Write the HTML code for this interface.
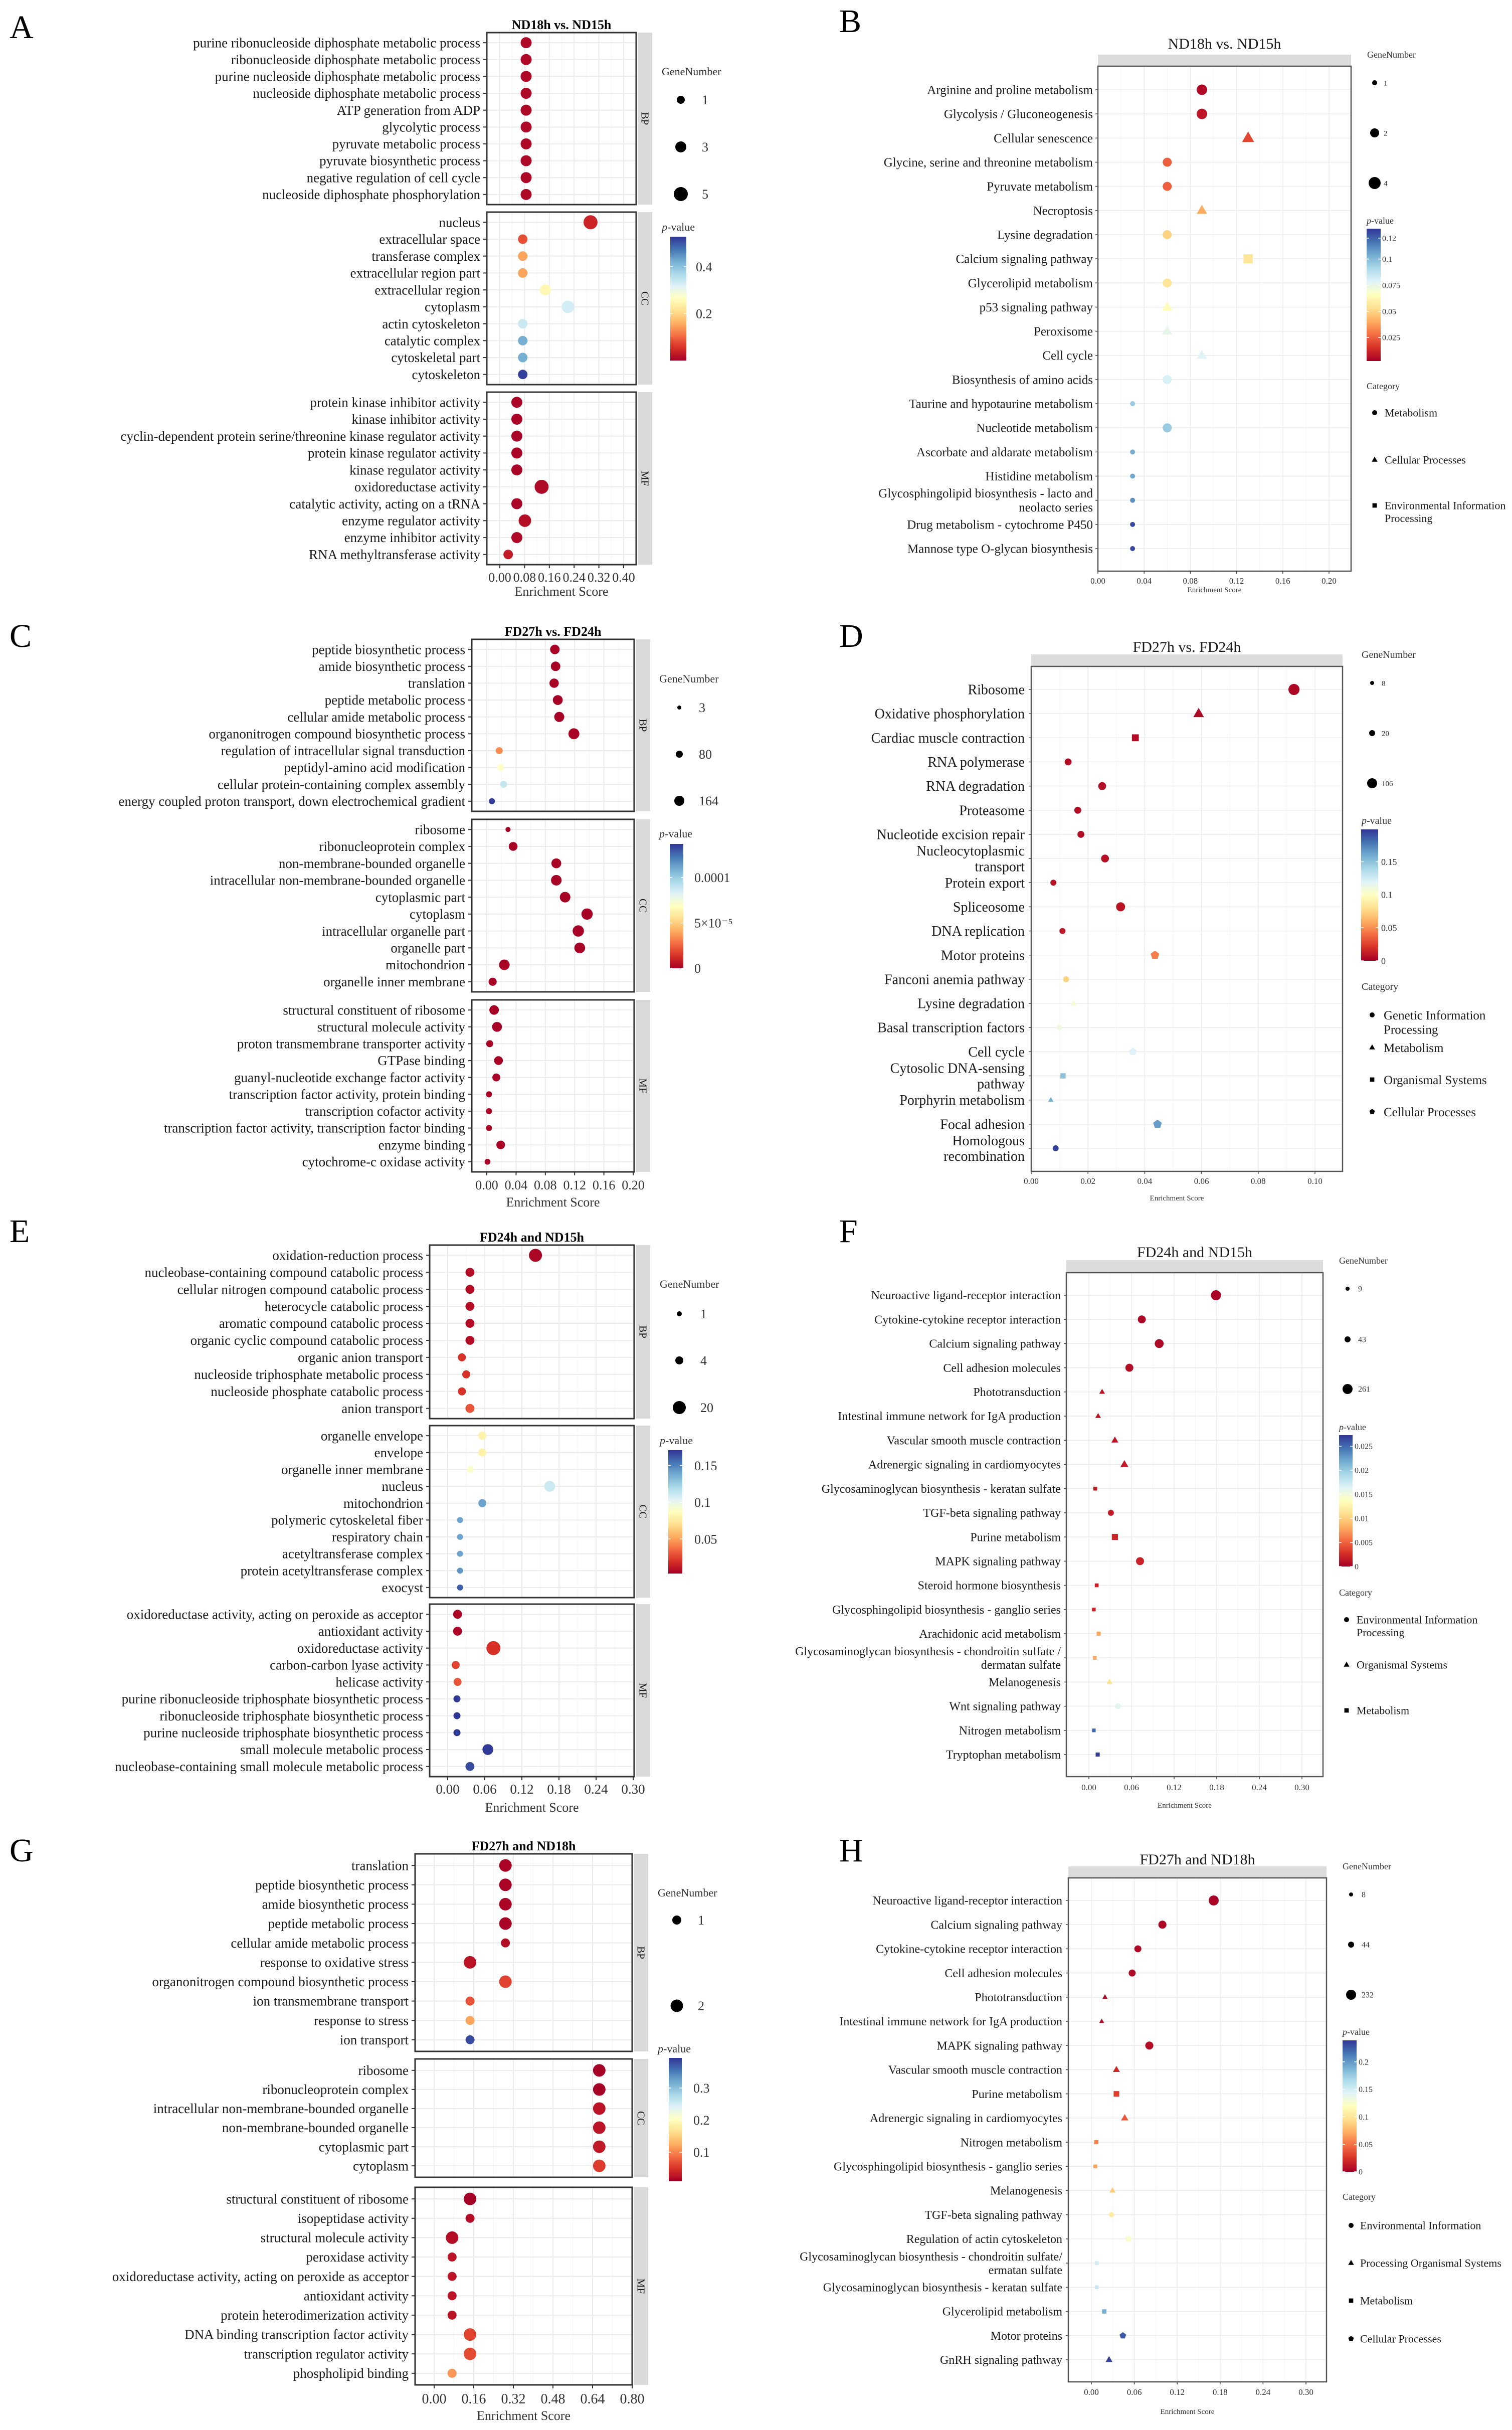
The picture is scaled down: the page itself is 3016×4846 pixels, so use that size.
<!DOCTYPE html>
<html><head><meta charset="utf-8"><title>GO and KEGG enrichment bubble charts</title>
<style>
html,body{margin:0;padding:0;background:#fff;}
svg{display:block;font-family:"Liberation Serif","DejaVu Serif",serif;}
</style></head>
<body>
<svg id="fig" xmlns="http://www.w3.org/2000/svg" width="3016" height="4846" viewBox="0 0 3016 4846">
<rect x="0" y="0" width="3016" height="4846" fill="#ffffff"/>
<defs id="defs"></defs>
</svg>
<script>
// ===================== DATA =====================
// Panel A (GO, ND18h vs. ND15h)
const A_BP_terms=["purine ribonucleoside diphosphate metabolic process","ribonucleoside diphosphate metabolic process","purine nucleoside diphosphate metabolic process","nucleoside diphosphate metabolic process","ATP generation from ADP","glycolytic process","pyruvate metabolic process","pyruvate biosynthetic process","negative regulation of cell cycle","nucleoside diphosphate phosphorylation"];
const A_BP_score=[0.085,0.085,0.085,0.085,0.085,0.085,0.085,0.085,0.085,0.085];
const A_BP_p=[0.01,0.01,0.01,0.01,0.01,0.01,0.01,0.01,0.01,0.01];
const A_BP_genes=[3,3,3,3,3,3,3,3,3,3];
const A_CC_terms=["nucleus","extracellular space","transferase complex","extracellular region part","extracellular region","cytoplasm","actin cytoskeleton","catalytic complex","cytoskeletal part","cytoskeleton"];
const A_CC_score=[0.293,0.074,0.074,0.074,0.147,0.22,0.074,0.074,0.074,0.074];
const A_CC_p=[0.04,0.08,0.15,0.15,0.25,0.33,0.34,0.42,0.42,0.52];
const A_CC_genes=[5,2,2,2,3,4,2,2,2,2];
const A_MF_terms=["protein kinase inhibitor activity","kinase inhibitor activity","cyclin-dependent protein serine/threonine kinase regulator activity","protein kinase regulator activity","kinase regulator activity","oxidoreductase activity","catalytic activity, acting on a tRNA","enzyme regulator activity","enzyme inhibitor activity","RNA methyltransferase activity"];
const A_MF_score=[0.055,0.055,0.055,0.055,0.055,0.135,0.055,0.081,0.055,0.027];
const A_MF_p=[0.005,0.005,0.005,0.005,0.005,0.01,0.005,0.015,0.01,0.03];
const A_MF_genes=[3,3,3,3,3,5,3,4,3,2];
const A_ticks=[0,0.08,0.16,0.24,0.32,0.40];
const A_tickLabels=["0.00","0.08","0.16","0.24","0.32","0.40"];

// Panel C (GO, FD27h vs. FD24h)
const C_BP_terms=["peptide biosynthetic process","amide biosynthetic process","translation","peptide metabolic process","cellular amide metabolic process","organonitrogen compound biosynthetic process","regulation of intracellular signal transduction","peptidyl-amino acid modification","cellular protein-containing complex assembly","energy coupled proton transport, down electrochemical gradient"];
const C_BP_score=[0.093,0.094,0.092,0.097,0.099,0.119,0.017,0.019,0.023,0.007];
const C_BP_p=[0.0000005,0.0000005,0.0000005,0.0000005,0.0000005,0.000001,0.000034,0.00007,0.00009,0.000135];
const C_BP_genes=[150,150,145,160,165,190,80,75,75,55];
const C_CC_terms=["ribosome","ribonucleoprotein complex","non-membrane-bounded organelle","intracellular non-membrane-bounded organelle","cytoplasmic part","cytoplasm","intracellular organelle part","organelle part","mitochondrion","organelle inner membrane"];
const C_CC_score=[0.029,0.036,0.095,0.095,0.107,0.137,0.125,0.127,0.024,0.008];
const C_CC_p=[0.0000005,0.0000005,0.0000005,0.0000005,0.0000005,0.0000005,0.0000005,0.0000005,0.000001,0.000001];
const C_CC_genes=[30,130,160,180,180,200,200,185,180,110];
const C_MF_terms=["structural constituent of ribosome","structural molecule activity","proton transmembrane transporter activity","GTPase binding","guanyl-nucleotide exchange factor activity","transcription factor activity, protein binding","transcription cofactor activity","transcription factor activity, transcription factor binding","enzyme binding","cytochrome-c oxidase activity"];
const C_MF_score=[0.010,0.014,0.004,0.016,0.013,0.003,0.003,0.003,0.019,0.001];
const C_MF_p=[0.0000005,0.0000005,0.000001,0.000001,0.000001,0.000001,0.000001,0.000001,0.000001,0.000001];
const C_MF_genes=[150,160,80,130,105,55,55,55,125,50];
const C_ticks=[0,0.04,0.08,0.12,0.16,0.20];
const C_tickLabels=["0.00","0.04","0.08","0.12","0.16","0.20"];

// Panel E (GO, FD24h and ND15h)
const E_BP_terms=["oxidation-reduction process","nucleobase-containing compound catabolic process","cellular nitrogen compound catabolic process","heterocycle catabolic process","aromatic compound catabolic process","organic cyclic compound catabolic process","organic anion transport","nucleoside triphosphate metabolic process","nucleoside phosphate catabolic process","anion transport"];
const E_BP_score=[0.142,0.036,0.036,0.036,0.036,0.036,0.023,0.030,0.023,0.036];
const E_BP_p=[0.005,0.008,0.008,0.008,0.008,0.008,0.02,0.02,0.02,0.03];
const E_BP_genes=[20,7,7,7,7,7,4,4,4,7];
const E_CC_terms=["organelle envelope","envelope","organelle inner membrane","nucleus","mitochondrion","polymeric cytoskeletal fiber","respiratory chain","acetyltransferase complex","protein acetyltransferase complex","exocyst"];
const E_CC_score=[0.056,0.056,0.037,0.165,0.056,0.02,0.02,0.02,0.02,0.02];
const E_CC_p=[0.08,0.08,0.09,0.11,0.14,0.14,0.14,0.14,0.145,0.16];
const E_CC_genes=[4,4,3,13,4,2,2,2,2,2];
const E_MF_terms=["oxidoreductase activity, acting on peroxide as acceptor","antioxidant activity","oxidoreductase activity","carbon-carbon lyase activity","helicase activity","purine ribonucleoside triphosphate biosynthetic process","ribonucleoside triphosphate biosynthetic process","purine nucleoside triphosphate biosynthetic process","small molecule metabolic process","nucleobase-containing small molecule metabolic process"];
const E_MF_score=[0.016,0.016,0.074,0.013,0.016,0.015,0.015,0.015,0.065,0.036];
const E_MF_p=[0.005,0.005,0.02,0.025,0.03,0.17,0.17,0.17,0.17,0.165];
const E_MF_genes=[7,7,23,4,4,3,3,3,13,7];
const E_ticks=[0,0.06,0.12,0.18,0.24,0.30];
const E_tickLabels=["0.00","0.06","0.12","0.18","0.24","0.30"];

// Panel G (GO, FD27h and ND18h)
const G_BP_terms=["translation","peptide biosynthetic process","amide biosynthetic process","peptide metabolic process","cellular amide metabolic process","response to oxidative stress","organonitrogen compound biosynthetic process","ion transmembrane transport","response to stress","ion transport"];
const G_BP_score=[0.288,0.288,0.288,0.288,0.288,0.145,0.288,0.145,0.145,0.145];
const G_BP_p=[0.012,0.012,0.012,0.012,0.02,0.025,0.06,0.07,0.12,0.38];
const G_BP_genes=[2,2,2,2,1,2,2,1,1,1];
const G_CC_terms=["ribosome","ribonucleoprotein complex","intracellular non-membrane-bounded organelle","non-membrane-bounded organelle","cytoplasmic part","cytoplasm"];
const G_CC_score=[0.667,0.667,0.667,0.667,0.667,0.667];
const G_CC_p=[0.01,0.01,0.025,0.025,0.03,0.055];
const G_CC_genes=[2,2,2,2,2,2];
const G_MF_terms=["structural constituent of ribosome","isopeptidase activity","structural molecule activity","peroxidase activity","oxidoreductase activity, acting on peroxide as acceptor","antioxidant activity","protein heterodimerization activity","DNA binding transcription factor activity","transcription regulator activity","phospholipid binding"];
const G_MF_score=[0.145,0.145,0.0725,0.0725,0.0725,0.0725,0.0725,0.145,0.145,0.0725];
const G_MF_p=[0.01,0.02,0.02,0.025,0.025,0.025,0.025,0.06,0.065,0.11];
const G_MF_genes=[2,1,2,1,1,1,1,2,2,1];
const G_ticks=[0,0.16,0.32,0.48,0.64,0.80];
const G_tickLabels=["0.00","0.16","0.32","0.48","0.64","0.80"];

// Panel B (KEGG, ND18h vs. ND15h)
const B_terms=["Arginine and proline metabolism","Glycolysis / Gluconeogenesis","Cellular senescence","Glycine, serine and threonine metabolism","Pyruvate metabolism","Necroptosis","Lysine degradation","Calcium signaling pathway","Glycerolipid metabolism","p53 signaling pathway","Peroxisome","Cell cycle","Biosynthesis of amino acids","Taurine and hypotaurine metabolism","Nucleotide metabolism","Ascorbate and aldarate metabolism","Histidine metabolism","Glycosphingolipid biosynthesis - lacto and\nneolacto series","Drug metabolism - cytochrome P450","Mannose type O-glycan biosynthesis"];
const B_score=[0.09,0.09,0.13,0.06,0.06,0.09,0.06,0.13,0.06,0.06,0.06,0.09,0.06,0.03,0.06,0.03,0.03,0.03,0.03,0.03];
const B_p=[0.005,0.008,0.02,0.025,0.025,0.04,0.05,0.055,0.055,0.065,0.075,0.078,0.08,0.095,0.095,0.103,0.105,0.11,0.125,0.125];
const B_genes=[3,3,3,2,2,2,2,3,2,2,2,2,2,1,2,1,1,1,1,1];
const B_shape=['c','c','t','c','c','t','c','s','c','t','t','t','c','c','c','c','c','c','c','c'];
const B_ticks=[0,0.04,0.08,0.12,0.16,0.20];
const B_tickLabels=["0.00","0.04","0.08","0.12","0.16","0.20"];

// Panel D (KEGG, FD27h vs. FD24h)
const D_terms=["Ribosome","Oxidative phosphorylation","Cardiac muscle contraction","RNA polymerase","RNA degradation","Proteasome","Nucleotide excision repair","Nucleocytoplasmic\ntransport","Protein export","Spliceosome","DNA replication","Motor proteins","Fanconi anemia pathway","Lysine degradation","Basal transcription factors","Cell cycle","Cytosolic DNA-sensing\npathway","Porphyrin metabolism","Focal adhesion","Homologous\nrecombination"];
const D_score=[0.0926,0.059,0.0367,0.013,0.025,0.0164,0.0175,0.026,0.0078,0.0315,0.011,0.0436,0.0123,0.0149,0.0099,0.0358,0.0112,0.0069,0.0445,0.0086];
const D_p=[0.003,0.004,0.005,0.005,0.006,0.006,0.006,0.007,0.008,0.008,0.01,0.045,0.075,0.105,0.11,0.12,0.15,0.16,0.165,0.195];
const D_genes=[130,90,60,40,60,40,40,60,20,85,20,60,20,15,15,40,20,12,60,20];
const D_shape=['c','t','s','c','c','c','c','c','c','c','c','p','c','t','c','p','s','t','p','c'];
const D_ticks=[0,0.02,0.04,0.06,0.08,0.10];
const D_tickLabels=["0.00","0.02","0.04","0.06","0.08","0.10"];

// Panel F (KEGG, FD24h and ND15h)
const F_terms=["Neuroactive ligand-receptor interaction","Cytokine-cytokine receptor interaction","Calcium signaling pathway","Cell adhesion molecules","Phototransduction","Intestinal immune network for IgA production","Vascular smooth muscle contraction","Adrenergic signaling in cardiomyocytes","Glycosaminoglycan biosynthesis - keratan sulfate","TGF-beta signaling pathway","Purine metabolism","MAPK signaling pathway","Steroid hormone biosynthesis","Glycosphingolipid biosynthesis - ganglio series","Arachidonic acid metabolism","Glycosaminoglycan biosynthesis - chondroitin sulfate /\ndermatan sulfate","Melanogenesis","Wnt signaling pathway","Nitrogen metabolism","Tryptophan metabolism"];
const F_score=[0.179,0.0745,0.099,0.057,0.0186,0.013,0.0366,0.05,0.009,0.031,0.0366,0.072,0.011,0.007,0.0138,0.0083,0.029,0.041,0.007,0.0124];
const F_p=[0.0003,0.0005,0.0005,0.0008,0.001,0.001,0.0012,0.0015,0.0015,0.0015,0.002,0.002,0.002,0.002,0.008,0.008,0.011,0.016,0.025,0.027];
const F_genes=[261,150,200,150,25,25,43,95,15,43,95,150,15,12,20,15,30,43,12,20];
const F_shape=['c','c','c','c','t','t','t','t','s','c','s','c','s','s','s','s','t','c','s','s'];
const F_ticks=[0,0.06,0.12,0.18,0.24,0.30];
const F_tickLabels=["0.00","0.06","0.12","0.18","0.24","0.30"];

// Panel H (KEGG, FD27h and ND18h)
const H_terms=["Neuroactive ligand-receptor interaction","Calcium signaling pathway","Cytokine-cytokine receptor interaction","Cell adhesion molecules","Phototransduction","Intestinal immune network for IgA production","MAPK signaling pathway","Vascular smooth muscle contraction","Purine metabolism","Adrenergic signaling in cardiomyocytes","Nitrogen metabolism","Glycosphingolipid biosynthesis - ganglio series","Melanogenesis","TGF-beta signaling pathway","Regulation of actin cytoskeleton","Glycosaminoglycan biosynthesis - chondroitin sulfate/\nermatan sulfate","Glycosaminoglycan biosynthesis - keratan sulfate","Glycerolipid metabolism","Motor proteins","GnRH signaling pathway"];
const H_score=[0.171,0.0993,0.065,0.057,0.019,0.0144,0.081,0.035,0.035,0.0466,0.0068,0.0055,0.0295,0.028,0.052,0.0075,0.0075,0.018,0.044,0.0247];
const H_p=[0.002,0.003,0.004,0.005,0.005,0.006,0.007,0.02,0.03,0.04,0.055,0.07,0.085,0.105,0.125,0.15,0.155,0.19,0.225,0.235];
const H_genes=[232,140,90,90,20,15,140,44,60,60,20,15,30,30,44,15,12,25,44,44];
const H_shape=['c','c','c','c','t','t','c','t','s','t','s','s','t','c','p','s','s','s','p','t'];
const H_ticks=[0,0.06,0.12,0.18,0.24,0.30];
const H_tickLabels=["0.00","0.06","0.12","0.18","0.24","0.30"];

// legend values
const A_geneLegend=[1,3,5]; const C_geneLegend=[3,80,164]; const E_geneLegend=[1,4,20]; const G_geneLegend=[1,2];
const B_geneLegend=[1,2,4]; const D_geneLegend=[8,20,106]; const F_geneLegend=[9,43,261]; const H_geneLegend=[8,44,232];
const A_pTicks=[0.2,0.4]; const A_pLabels=["0.2","0.4"];
const C_pTicks=[0,0.00005,0.0001]; const C_pLabels=["0","5×10⁻⁵","0.0001"];
const E_pTicks=[0.05,0.1,0.15]; const E_pLabels=["0.05","0.1","0.15"];
const G_pTicks=[0.1,0.2,0.3]; const G_pLabels=["0.1","0.2","0.3"];
const B_pTicks=[0.025,0.05,0.075,0.1,0.12]; const B_pLabels=["0.025","0.05","0.075","0.1","0.12"];
const D_pTicks=[0,0.05,0.1,0.15]; const D_pLabels=["0","0.05","0.1","0.15"];
const F_pTicks=[0,0.005,0.01,0.015,0.02,0.025]; const F_pLabels=["0","0.005","0.01","0.015","0.02","0.025"];
const H_pTicks=[0,0.05,0.1,0.15,0.2]; const H_pLabels=["0","0.05","0.1","0.15","0.2"];

// ===================== HELPERS =====================
const NS='http://www.w3.org/2000/svg';
const svg=document.getElementById('fig');
const defs=document.getElementById('defs');
function mk(tag,attrs,parent){const e=document.createElementNS(NS,tag);for(const k in attrs)e.setAttribute(k,attrs[k]);(parent||svg).appendChild(e);return e;}
function txt(s,attrs,parent){const e=mk('text',attrs,parent);e.textContent=s;return e;}
const STOPS=['#A50026','#D73027','#F46D43','#FDAE61','#FEE090','#FFFFBF','#E0F3F8','#ABD9E9','#74ADD1','#4575B4','#313695'];
function hx(h){return [parseInt(h.substr(1,2),16),parseInt(h.substr(3,2),16),parseInt(h.substr(5,2),16)];}
function colT(t){t=Math.max(0,Math.min(1,t));const f=t*(STOPS.length-1);const i=Math.min(Math.floor(f),STOPS.length-2);const u=f-i;const a=hx(STOPS[i]),b=hx(STOPS[i+1]);return 'rgb('+a.map((v,k)=>Math.round(v+(b[k]-v)*u)).join(',')+')';}
function sizeR(g,vals,radii){
  if(vals.length===1)return radii[0];
  let i=0; while(i<vals.length-2 && g>vals[i+1]) i++;
  const t=(g-vals[i])/(vals[i+1]-vals[i]); return Math.max(3,radii[i]+t*(radii[i+1]-radii[i]));
}
function marker(shape,cx,cy,r,fill,parent){
  let e;
  if(shape==='t'){e=mk('polygon',{points:[cx,cy-r*1.25,cx-r*1.15,cy+r*0.75,cx+r*1.15,cy+r*0.75].join(' '),fill:fill},parent);}
  else if(shape==='s'){const s=r*1.75;e=mk('rect',{x:cx-s/2,y:cy-s/2,width:s,height:s,fill:fill},parent);}
  else if(shape==='p'){const pts=[];for(let k=0;k<5;k++){const a=-Math.PI/2+k*2*Math.PI/5;pts.push(cx+r*1.15*Math.cos(a),cy+r*1.15*Math.sin(a));}e=mk('polygon',{points:pts.join(' '),fill:fill},parent);}
  else {e=mk('circle',{cx:cx,cy:cy,r:r,fill:fill},parent);}
  return e;
}
function gradient(id){
  const g=mk('linearGradient',{id:id,x1:0,y1:1,x2:0,y2:0},defs);
  STOPS.forEach((c,i)=>{mk('stop',{offset:(i/(STOPS.length-1)*100)+'%','stop-color':c},g);});
}
function multiText(s,x,y,fs,parent,lh){
  const lines=s.split('\n');
  const t=mk('text',{x:x,y:y,'font-size':fs,'text-anchor':'end',fill:'#1a1a1a'},parent);
  lines.forEach((ln,j)=>{const ts=mk('tspan',{x:x,y:y+(j-(lines.length-1)/2)*lh+fs*0.34},t);ts.textContent=ln;});
  return t;
}

function drawGeneLegend(g,cfg,vals){
  const grp=mk('g',{},svg);
  
  
  const t=txt('GeneNumber',{x:g.tx,y:g.ty,'font-size':g.tfs,fill:'#333'},grp);
  
  
  vals.forEach((v,i)=>{
    const m=mk('circle',{cx:g.dx,cy:g.ys[i],r:sizeR(v,vals,g.radii),fill:'#000'},grp);
    
    
    const l=txt(String(v),{x:g.lx,y:g.ys[i]+g.lfs*0.35,'font-size':g.lfs,fill:'#333'},grp);
    
    
  });
}
function drawPLegend(pv,cfg,ticks,labels){
  const grp=mk('g',{},svg);
  
  
  const t=mk('text',{x:pv.tx,y:pv.ty,'font-size':pv.tfs,fill:'#333'},grp);
  const ti=mk('tspan',{'font-style':'italic'},t); ti.textContent='p';
  const tr=mk('tspan',{},t); tr.textContent='-value';
  
  
  const gid='grad-'+cfg.id; gradient(gid);
  const bar=mk('rect',{x:pv.bx,y:pv.bt,width:pv.bw,height:pv.bb-pv.bt,fill:'url(#'+gid+')'},grp);
  
  
  const py=v=>pv.bb-(v-pv.pmin)/(pv.pmax-pv.pmin)*(pv.bb-pv.bt);
  ticks.forEach((v,i)=>{
    const y=py(v);
    mk('line',{x1:pv.bx,x2:pv.bx+5,y1:y,y2:y,stroke:'#fff','stroke-width':1.5},grp);
    mk('line',{x1:pv.bx+pv.bw-5,x2:pv.bx+pv.bw,y1:y,y2:y,stroke:'#fff','stroke-width':1.5},grp);
    const l=txt(labels[i],{x:pv.lx,y:y+pv.lfs*0.35,'font-size':pv.lfs,fill:'#333'},grp);
    
    
  });
}
function drawCategoryLegend(c,cfg){
  const grp=mk('g',{},svg);
  
  
  const t=txt('Category',{x:c.tx,y:c.ty,'font-size':c.tfs,fill:'#333'},grp);
  
  
  c.items.forEach(it=>{
    const m=marker(it.shape,c.mx,it.y,5,'#000',grp);
    
    
    it.lines.forEach((ln,j)=>{
      const l=txt(ln,{x:c.lx,y:it.y+c.lfs*0.35+j*c.lfs*1.15,'font-size':c.lfs,fill:'#1a1a1a'},grp);
      
      
    });
  });
}
function panelLetter(ch,x,y){
  const e=txt(ch,{x:x,y:y,'font-size':66,fill:'#000'});
  
  
}

// -------- GO facet panel --------
function drawGO(cfg){
  const xs=v=>cfg.x0px+(v-cfg.v0)/(cfg.v1-cfg.v0)*(cfg.x1px-cfg.x0px);
  panelLetter(cfg.letter,cfg.lx,cfg.ly);
  const tt=txt(cfg.title,{x:(cfg.L+cfg.R)/2,y:cfg.ty,'font-size':26,'font-weight':'bold','text-anchor':'middle',fill:'#000'});
  
  
  const stepTick=cfg.ticks[1]-cfg.ticks[0];
  cfg.facets.forEach((f,fi)=>{
    const grp=mk('g',{},svg);
    
    
    const n=f.terms.length, unit=(f.bottom-f.top)/(n-1+1.2);
    const ry=i=>f.top+(0.6+i)*unit;
    mk('rect',{x:cfg.L,y:f.top,width:cfg.R-cfg.L,height:f.bottom-f.top,fill:'#fff'},grp);
    cfg.ticks.forEach((v,i)=>{
      const x=xs(v);
      mk('line',{x1:x,x2:x,y1:f.top,y2:f.bottom,stroke:'#ebebeb','stroke-width':2},grp);
      const xm=xs(v+stepTick/2); if(xm<cfg.R) mk('line',{x1:xm,x2:xm,y1:f.top,y2:f.bottom,stroke:'#f4f4f4','stroke-width':1},grp);
      if(i===0){const xm0=xs(v-stepTick/2); if(xm0>cfg.L) mk('line',{x1:xm0,x2:xm0,y1:f.top,y2:f.bottom,stroke:'#f4f4f4','stroke-width':1},grp);}
    });
    for(let i=0;i<n;i++){
      const y=ry(i);
      mk('line',{x1:cfg.L,x2:cfg.R,y1:y,y2:y,stroke:'#ebebeb','stroke-width':2},grp);
      mk('line',{x1:cfg.L-7,x2:cfg.L,y1:y,y2:y,stroke:'#333','stroke-width':2},grp);
      const l=multiText(f.terms[i],cfg.L-13,y,cfg.fs,grp,cfg.fs*1.1);
      
      
    }
    for(let i=0;i<n;i++){
      const c=colT((f.p[i]-cfg.pv.pmin)/(cfg.pv.pmax-cfg.pv.pmin));
      const m=marker('c',xs(f.score[i]),ry(i),sizeR(f.genes[i],cfg.geneVals,cfg.gene.radii),c,grp);
      
      
    }
    mk('rect',{x:cfg.L,y:f.top,width:cfg.R-cfg.L,height:f.bottom-f.top,fill:'none',stroke:'#333','stroke-width':3},grp);
    const st=mk('rect',{x:cfg.R+3,y:f.top,width:29,height:f.bottom-f.top,fill:'#d9d9d9'},grp);
    
    
    const cx=cfg.R+17.5, cy=(f.top+f.bottom)/2;
    const sl=txt(f.name,{x:cx,y:cy+7,'font-size':21,'text-anchor':'middle',fill:'#1a1a1a',transform:'rotate(90 '+cx+' '+cy+')'},grp);
    
    
  });
  const last=cfg.facets[cfg.facets.length-1];
  const ax=mk('g',{},svg);
  
  
  cfg.ticks.forEach((v,i)=>{
    const x=xs(v);
    mk('line',{x1:x,x2:x,y1:last.bottom,y2:last.bottom+7,stroke:'#333','stroke-width':2},ax);
    const l=txt(cfg.tickLabels[i],{x:x,y:cfg.tickY,'font-size':cfg.tfs,'text-anchor':'middle',fill:'#333'},ax);
    
    
  });
  const at=txt('Enrichment Score',{x:(cfg.L+cfg.R)/2,y:cfg.esY,'font-size':26,'text-anchor':'middle',fill:'#333'},ax);
  
  
  drawGeneLegend(cfg.gene,cfg,cfg.geneVals);
  drawPLegend(cfg.pv,cfg,cfg.pTicks,cfg.pLabels);
}

// -------- KEGG panel --------
function drawKEGG(cfg){
  const xs=v=>cfg.x0px+(v-cfg.v0)/(cfg.v1-cfg.v0)*(cfg.x1px-cfg.x0px);
  const n=cfg.terms.length;
  const ry=i=>cfg.firstY+i*(cfg.lastY-cfg.firstY)/(n-1);
  panelLetter(cfg.letter,cfg.lx,cfg.ly);
  const tt=txt(cfg.title,{x:(cfg.L+cfg.R)/2,y:cfg.ty,'font-size':30,'text-anchor':'middle',fill:'#1a1a1a'});
  
  
  const grp=mk('g',{},svg);
  
  
  const st=mk('rect',{x:cfg.L,y:cfg.stripTop,width:cfg.R-cfg.L,height:cfg.top-cfg.stripTop,fill:'#dcdcdc'},grp);
  
  
  mk('rect',{x:cfg.L,y:cfg.top,width:cfg.R-cfg.L,height:cfg.bottom-cfg.top,fill:'#fff'},grp);
  const step=cfg.ticks[1]-cfg.ticks[0];
  cfg.ticks.forEach((v,i)=>{
    const x=xs(v);
    mk('line',{x1:x,x2:x,y1:cfg.top,y2:cfg.bottom,stroke:'#ebebeb','stroke-width':1.5},grp);
    const xm=xs(v+step/2); if(xm<cfg.R) mk('line',{x1:xm,x2:xm,y1:cfg.top,y2:cfg.bottom,stroke:'#f5f5f5','stroke-width':1},grp);
  });
  for(let i=0;i<n;i++){
    const y=ry(i);
    mk('line',{x1:cfg.L,x2:cfg.R,y1:y,y2:y,stroke:'#ebebeb','stroke-width':1.5},grp);
    mk('line',{x1:cfg.L-5,x2:cfg.L,y1:y,y2:y,stroke:'#444','stroke-width':1.5},grp);
    const l=multiText(cfg.terms[i],cfg.labelX,y,cfg.fs,grp,cfg.fs*1.12);
    
    
  }
  for(let i=0;i<n;i++){
    const c=colT((cfg.p[i]-cfg.pv.pmin)/(cfg.pv.pmax-cfg.pv.pmin));
    const m=marker(cfg.shape[i],xs(cfg.score[i]),ry(i),sizeR(cfg.genes[i],cfg.geneVals,cfg.gene.radii),c,grp);
    
    
  }
  mk('rect',{x:cfg.L,y:cfg.top,width:cfg.R-cfg.L,height:cfg.bottom-cfg.top,fill:'none',stroke:'#555','stroke-width':2.5},grp);
  const ax=mk('g',{},svg);
  
  
  cfg.ticks.forEach((v,i)=>{
    const x=xs(v);
    mk('line',{x1:x,x2:x,y1:cfg.bottom,y2:cfg.bottom+5,stroke:'#444','stroke-width':1.5},ax);
    const l=txt(cfg.tickLabels[i],{x:x,y:cfg.tickY,'font-size':17,'text-anchor':'middle',fill:'#333'},ax);
    
    
  });
  const at=txt('Enrichment Score',{x:(cfg.L+cfg.R)/2-20,y:cfg.esY,'font-size':15,'text-anchor':'middle',fill:'#333'},ax);
  
  
  drawGeneLegend(cfg.gene,cfg,cfg.geneVals);
  drawPLegend(cfg.pv,cfg,cfg.pTicks,cfg.pLabels);
  drawCategoryLegend(cfg.cat,cfg);
}

// ===================== PANELS =====================
drawGO({id:'panel-a',letter:'A',lx:19,ly:76,title:'ND18h vs. ND15h',ty:58,L:971,R:1269,v0:0,v1:0.4,x0px:997,x1px:1244,
  ticks:A_ticks,tickLabels:A_tickLabels,tickY:1160,esY:1188,fs:27,tfs:26,
  facets:[{name:'BP',top:65,bottom:408,terms:A_BP_terms,score:A_BP_score,p:A_BP_p,genes:A_BP_genes},
          {name:'CC',top:423,bottom:767,terms:A_CC_terms,score:A_CC_score,p:A_CC_p,genes:A_CC_genes},
          {name:'MF',top:782,bottom:1126,terms:A_MF_terms,score:A_MF_score,p:A_MF_p,genes:A_MF_genes}],
  geneVals:A_geneLegend,gene:{tx:1320,ty:150,tfs:22,dx:1358,ys:[199,293,387],radii:[8,11,14],lx:1400,lfs:26},
  pv:{tx:1320,ty:460,tfs:22,bx:1337,bw:32,bt:472,bb:719,pmin:0,pmax:0.528,lx:1388,lfs:26},pTicks:A_pTicks,pLabels:A_pLabels});

drawGO({id:'panel-c',letter:'C',lx:19,ly:1290,title:'FD27h vs. FD24h',ty:1268,L:941,R:1265,v0:0,v1:0.2,x0px:971,x1px:1263,
  ticks:C_ticks,tickLabels:C_tickLabels,tickY:2372,esY:2406,fs:27,tfs:26,
  facets:[{name:'BP',top:1275,bottom:1618,terms:C_BP_terms,score:C_BP_score,p:C_BP_p,genes:C_BP_genes},
          {name:'CC',top:1634,bottom:1978,terms:C_CC_terms,score:C_CC_score,p:C_CC_p,genes:C_CC_genes},
          {name:'MF',top:1994,bottom:2337,terms:C_MF_terms,score:C_MF_score,p:C_MF_p,genes:C_MF_genes}],
  geneVals:C_geneLegend,gene:{tx:1315,ty:1361,tfs:22,dx:1355,ys:[1411,1504,1597],radii:[4,7,10],lx:1394,lfs:26},
  pv:{tx:1315,ty:1670,tfs:22,bx:1336,bw:27,bt:1683,bb:1931,pmin:0,pmax:0.000137,lx:1385,lfs:26},pTicks:C_pTicks,pLabels:C_pLabels});

drawGO({id:'panel-e',letter:'E',lx:19,ly:2477,title:'FD24h and ND15h',ty:2476,L:857,R:1265,v0:0,v1:0.3,x0px:893,x1px:1263,
  ticks:E_ticks,tickLabels:E_tickLabels,tickY:3577,esY:3613,fs:27,tfs:27,
  facets:[{name:'BP',top:2483,bottom:2829,terms:E_BP_terms,score:E_BP_score,p:E_BP_p,genes:E_BP_genes},
          {name:'CC',top:2843,bottom:3186,terms:E_CC_terms,score:E_CC_score,p:E_CC_p,genes:E_CC_genes},
          {name:'MF',top:3199,bottom:3543,terms:E_MF_terms,score:E_MF_score,p:E_MF_p,genes:E_MF_genes}],
  geneVals:E_geneLegend,gene:{tx:1316,ty:2568,tfs:22,dx:1355,ys:[2620,2713,2807],radii:[5,8,13],lx:1397,lfs:26},
  pv:{tx:1316,ty:2880,tfs:22,bx:1333,bw:28,bt:2892,bb:3138,pmin:0.003,pmax:0.171,lx:1385,lfs:26},pTicks:E_pTicks,pLabels:E_pLabels});

drawGO({id:'panel-g',letter:'G',lx:19,ly:3712,title:'FD27h and ND18h',ty:3690,L:828,R:1261,v0:0,v1:0.8,x0px:866,x1px:1261,
  ticks:G_ticks,tickLabels:G_tickLabels,tickY:4793,esY:4826,fs:27,tfs:28,
  facets:[{name:'BP',top:3697,bottom:4091,terms:G_BP_terms,score:G_BP_score,p:G_BP_p,genes:G_BP_genes},
          {name:'CC',top:4106,bottom:4342,terms:G_CC_terms,score:G_CC_score,p:G_CC_p,genes:G_CC_genes},
          {name:'MF',top:4362,bottom:4756,terms:G_MF_terms,score:G_MF_score,p:G_MF_p,genes:G_MF_genes}],
  geneVals:G_geneLegend,gene:{tx:1312,ty:3782,tfs:22,dx:1350,ys:[3829,4000],radii:[9,12.5],lx:1392,lfs:26},
  pv:{tx:1312,ty:4093,tfs:22,bx:1334,bw:26,bt:4104,bb:4350,pmin:0.009,pmax:0.394,lx:1383,lfs:26},pTicks:G_pTicks,pLabels:G_pLabels});

drawKEGG({id:'panel-b',letter:'B',lx:1674,ly:64,title:'ND18h vs. ND15h',ty:97,L:2190,R:2695,stripTop:109,top:132,bottom:1139,
  firstY:179,lastY:1094,v0:0,v1:0.2,x0px:2190,x1px:2651,ticks:B_ticks,tickLabels:B_tickLabels,tickY:1164,esY:1181,
  labelX:2180,fs:25,terms:B_terms,score:B_score,p:B_p,genes:B_genes,shape:B_shape,
  geneVals:B_geneLegend,gene:{tx:2727,ty:115,tfs:18,dx:2742,ys:[165,265,365],radii:[5,9,12],lx:2760,lfs:15},
  pv:{tx:2726,ty:446,tfs:18,bx:2726,bw:28,bt:456,bb:720,pmin:0.0025,pmax:0.129,lx:2757,lfs:16},pTicks:B_pTicks,pLabels:B_pLabels,
  cat:{tx:2726,ty:776,tfs:18,mx:2742,lx:2762,lfs:22,items:[{shape:'c',y:823,lines:['Metabolism']},{shape:'t',y:917,lines:['Cellular Processes']},{shape:'s',y:1008,lines:['Environmental Information','Processing']}]}});

drawKEGG({id:'panel-d',letter:'D',lx:1674,ly:1290,title:'FD27h vs. FD24h',ty:1300,L:2057,R:2678,stripTop:1305,top:1329,bottom:2336,
  firstY:1375,lastY:2290,v0:0,v1:0.1,x0px:2057,x1px:2623,ticks:D_ticks,tickLabels:D_tickLabels,tickY:2361,esY:2394,
  labelX:2044,fs:28,terms:D_terms,score:D_score,p:D_p,genes:D_genes,shape:D_shape,
  geneVals:D_geneLegend,gene:{tx:2716,ty:1312,tfs:20,dx:2737,ys:[1362,1462,1562],radii:[4,6,10],lx:2756,lfs:15},
  pv:{tx:2716,ty:1643,tfs:20,bx:2715,bw:34,bt:1654,bb:1916,pmin:0,pmax:0.199,lx:2755,lfs:18},pTicks:D_pTicks,pLabels:D_pLabels,
  cat:{tx:2716,ty:1974,tfs:20,mx:2737,lx:2760,lfs:25,items:[{shape:'c',y:2024,lines:['Genetic Information','Processing']},{shape:'t',y:2089,lines:['Metabolism']},{shape:'s',y:2153,lines:['Organismal Systems']},{shape:'p',y:2217,lines:['Cellular Processes']}]}});

drawKEGG({id:'panel-f',letter:'F',lx:1674,ly:2477,title:'FD24h and ND15h',ty:2507,L:2127,R:2639,stripTop:2513,top:2538,bottom:3543,
  firstY:2583,lastY:3499,v0:0,v1:0.3,x0px:2172,x1px:2597,ticks:F_ticks,tickLabels:F_tickLabels,tickY:3570,esY:3605,
  labelX:2116,fs:24,terms:F_terms,score:F_score,p:F_p,genes:F_genes,shape:F_shape,
  geneVals:F_geneLegend,gene:{tx:2671,ty:2520,tfs:18,dx:2688,ys:[2570,2671,2770],radii:[4,6,10],lx:2709,lfs:16},
  pv:{tx:2671,ty:2852,tfs:18,bx:2671,bw:27,bt:2862,bb:3124,pmin:0,pmax:0.0273,lx:2702,lfs:16},pTicks:F_pTicks,pLabels:F_pLabels,
  cat:{tx:2671,ty:3182,tfs:18,mx:2686,lx:2706,lfs:22,items:[{shape:'c',y:3230,lines:['Environmental Information','Processing']},{shape:'t',y:3320,lines:['Organismal Systems']},{shape:'s',y:3411,lines:['Metabolism']}]}});

drawKEGG({id:'panel-h',letter:'H',lx:1674,ly:3712,title:'FD27h and ND18h',ty:3718,L:2131,R:2646,stripTop:3722,top:3745,bottom:4750,
  firstY:3790,lastY:4706,v0:0,v1:0.3,x0px:2177,x1px:2605,ticks:H_ticks,tickLabels:H_tickLabels,tickY:4776,esY:4814,
  labelX:2119,fs:24,terms:H_terms,score:H_score,p:H_p,genes:H_genes,shape:H_shape,
  geneVals:H_geneLegend,gene:{tx:2678,ty:3728,tfs:18,dx:2695,ys:[3778,3878,3978],radii:[4,6,10],lx:2716,lfs:16},
  pv:{tx:2678,ty:4058,tfs:18,bx:2678,bw:28,bt:4069,bb:4331,pmin:0,pmax:0.239,lx:2710,lfs:16},pTicks:H_pTicks,pLabels:H_pLabels,
  cat:{tx:2678,ty:4387,tfs:18,mx:2695,lx:2713,lfs:22,items:[{shape:'c',y:4438,lines:['Environmental Information']},{shape:'t',y:4513,lines:['Processing Organismal Systems']},{shape:'s',y:4588,lines:['Metabolism']},{shape:'p',y:4664,lines:['Cellular Processes']}]}});
</script>
</body></html>
